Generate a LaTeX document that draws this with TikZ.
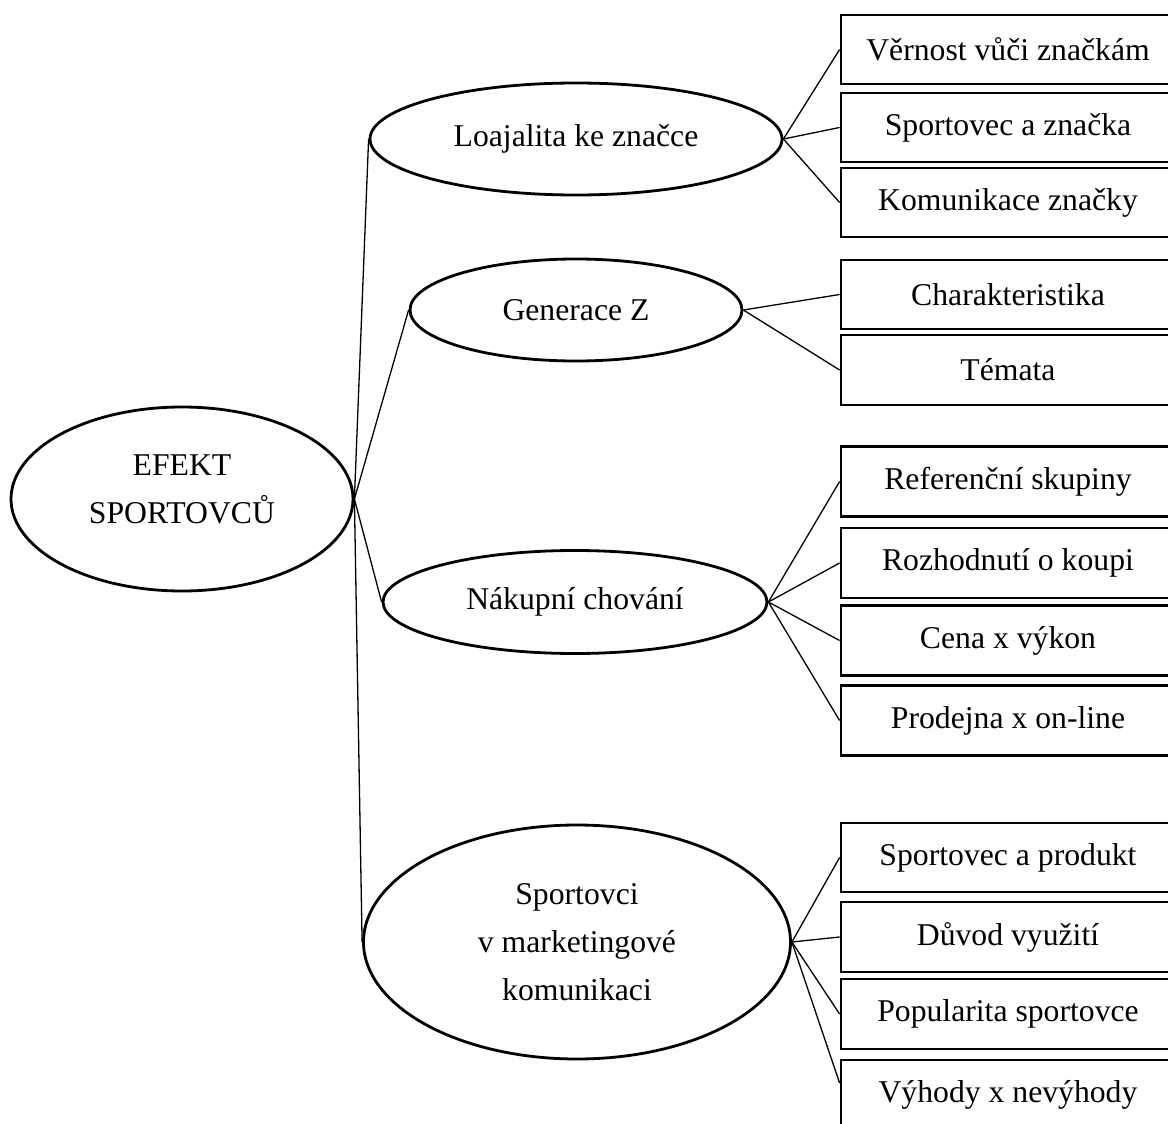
\documentclass[tikz,border=0pt]{standalone}
\usepackage{fontspec}
\setmainfont{Liberation Serif}
\usetikzlibrary{shapes.geometric}
\begin{document}
\begin{tikzpicture}[x=1pt,y=-1pt,
  every node/.style={font=\fontsize{31.7}{48}\selectfont, align=center, inner sep=0pt},
  topic/.style={ellipse, draw, line width=2.8pt, fill=white},
  leaf/.style={rectangle, draw, line width=2.8pt, fill=white, minimum width=334pt},
  link/.style={line width=1.3pt}]
\useasboundingbox (0,0) rectangle (1168,1124);
\clip (0,0) rectangle (1168,1124);

% central topic (outline, then its two-line title)
\node[topic, minimum width=342pt, minimum height=184pt] (main) at (182,499) {};
\node (maintitle) at (182,489) {EFEKT\\SPORTOVCŮ};

% second level
\node[topic, minimum width=412pt, minimum height=112pt] (e1) at (576,139) {Loajalita ke značce};
\node[topic, minimum width=332pt, minimum height=102pt] (e2) at (576,310) {Generace Z};
\node[topic, minimum width=384pt, minimum height=103pt] (e3) at (575,602) {Nákupní chování};
\node[topic, minimum width=427pt, minimum height=234pt] (e4) at (577,942) {Sportovci\\v marketingové\\komunikaci};

% leaves
\node[leaf, minimum height=69pt] (b11) at (1008,49.5) {Věrnost vůči značkám};
\node[leaf, minimum height=69pt] (b12) at (1008,127.5) {Sportovec a značka};
\node[leaf, minimum height=69pt] (b13) at (1008,202.5) {Komunikace značky};

\node[leaf, minimum height=69pt] (b21) at (1008,294.5) {Charakteristika};
\node[leaf, minimum height=70pt] (b22) at (1008,370) {Témata};

\node[leaf, minimum height=70pt] (b31) at (1008,481.5) {Referenční skupiny};
\node[leaf, minimum height=70pt] (b32) at (1008,563) {Rozhodnutí o koupi};
\node[leaf, minimum height=70pt] (b33) at (1008,640.5) {Cena x výkon};
\node[leaf, minimum height=70pt] (b34) at (1008,720.5) {Prodejna x on-line};

\node[leaf, minimum height=69pt] (b41) at (1008,857.5) {Sportovec a produkt};
\node[leaf, minimum height=70pt] (b42) at (1008,937) {Důvod využití};
\node[leaf, minimum height=70pt] (b43) at (1008,1014) {Popularita sportovce};
\node[leaf, minimum height=70pt] (b44) at (1008,1095) {Výhody x nevýhody};

% connectors from the central topic
\foreach \t in {e1,e2,e3,e4}
  \draw[link] (main.east) -- (\t.west);

% connectors to the leaves
\foreach \b in {b11,b12,b13}
  \draw[link] (e1.east) -- (\b.west);
\foreach \b in {b21,b22}
  \draw[link] (e2.east) -- (\b.west);
\foreach \b in {b31,b32,b33,b34}
  \draw[link] (e3.east) -- (\b.west);
\foreach \b in {b41,b42,b43}
  \draw[link] (e4.east) -- (\b.west);
\draw[link] (e4.east) -- ([yshift=12pt]b44.west);
\end{tikzpicture}
\end{document}
